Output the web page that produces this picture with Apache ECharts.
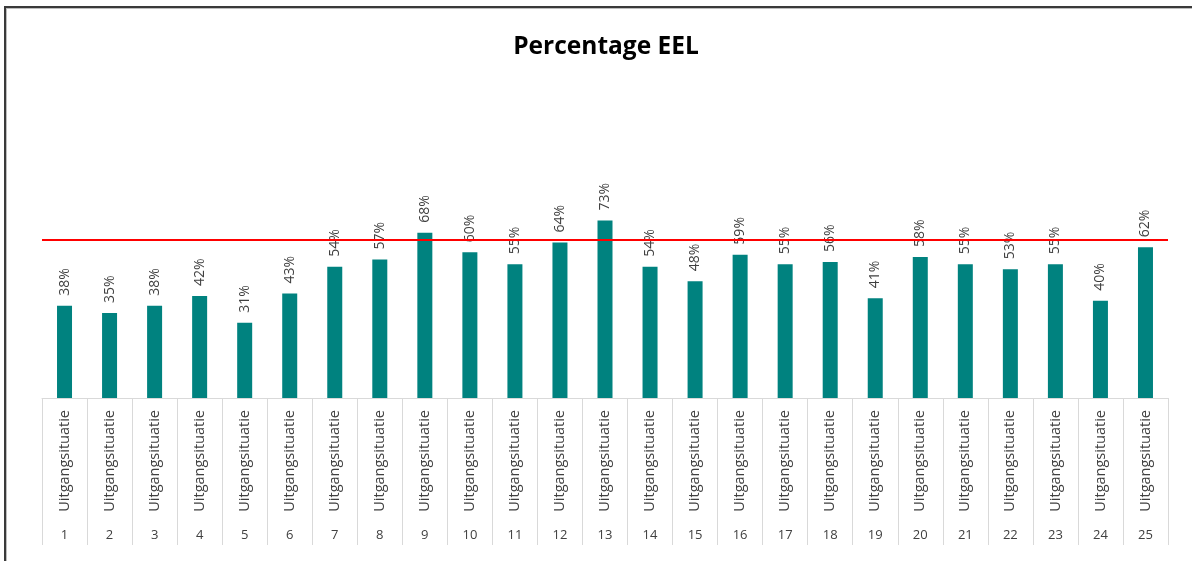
<!DOCTYPE html>
<html>
<head>
<meta charset="utf-8">
<script src="https://cdn.jsdelivr.net/npm/echarts@6/dist/echarts.min.js"></script>
<style>
html,body{margin:0;padding:0;background:#fff;}
#frame{position:absolute;left:4px;top:6px;width:1188px;height:555px;border-top:2px solid #3a3a3a;border-left:2px solid #3a3a3a;box-shadow:inset 1px 1px 0 #bdbdbd;}
#chart{position:absolute;left:0;top:0;width:1192px;height:561px;}
</style>
</head>
<body>
<div id="frame"></div>
<div id="chart"></div>
<script>
const categoryNames = ["Uitgangsituatie","Uitgangsituatie","Uitgangsituatie","Uitgangsituatie","Uitgangsituatie","Uitgangsituatie","Uitgangsituatie","Uitgangsituatie","Uitgangsituatie","Uitgangsituatie","Uitgangsituatie","Uitgangsituatie","Uitgangsituatie","Uitgangsituatie","Uitgangsituatie","Uitgangsituatie","Uitgangsituatie","Uitgangsituatie","Uitgangsituatie","Uitgangsituatie","Uitgangsituatie","Uitgangsituatie","Uitgangsituatie","Uitgangsituatie","Uitgangsituatie"];
const categoryNumbers = ["1","2","3","4","5","6","7","8","9","10","11","12","13","14","15","16","17","18","19","20","21","22","23","24","25"];
const eelValues = [38,35,38,42,31,43,54,57,68,60,55,64,73,54,48,59,55,56,41,58,55,53,55,40,62];
const targetValue = 65;

const chart = echarts.init(document.getElementById('chart'), null, {renderer:'canvas'});
const font = "'Open Sans', 'Noto Sans', sans-serif";
chart.setOption({
  animation:false,
  title:{
    text:'Percentage EEL',
    left:601, top:30, textAlign:'center',
    textStyle:{fontFamily:font, fontWeight:'bold', fontSize:24.5, color:'#000'}
  },
  grid:{left:42, right:24, top:155, bottom:163},
  xAxis:[{
    type:'category',
    data:categoryNames,
    position:'bottom',
    axisLine:{show:true, lineStyle:{color:'#d9d9d9', width:1}},
    axisTick:{show:true, length:147, lineStyle:{color:'#d9d9d9', width:1}},
    axisLabel:{rotate:90, margin:12, fontFamily:font, fontSize:14.5, color:'#404040', interval:0}
  },{
    type:'category',
    data:categoryNumbers,
    position:'bottom',
    axisLine:{show:false},
    axisTick:{show:false},
    axisLabel:{margin:131, fontFamily:font, fontSize:13, color:'#404040', interval:0}
  }],
  yAxis:{type:'value', min:0, max:100, show:false, splitLine:{show:false}},
  series:[{
    type:'bar',
    data:eelValues,
    xAxisIndex:0,
    barWidth:15,
    itemStyle:{color:'#00827F'},
    label:{
      show:true, position:'top', rotate:90, align:'left', verticalAlign:'middle',
      distance:10, formatter:'{c}%', fontFamily:font, fontSize:14, color:'#404040'
    },
    markLine:{
      silent:true, symbol:'none',
      label:{show:false},
      lineStyle:{color:'#ff0000', width:2, type:'solid'},
      data:[{yAxis:targetValue}]
    }
  }]
});
</script>
</body>
</html>
